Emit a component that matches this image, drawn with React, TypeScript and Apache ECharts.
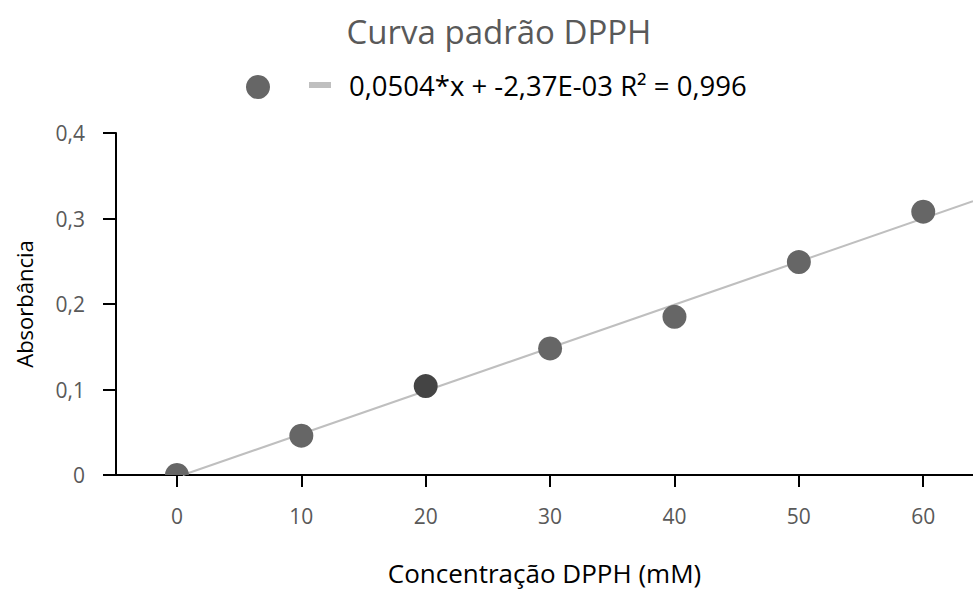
import React, { useEffect, useRef } from "react";
import * as echarts from "echarts";

const TITLE = "Curva padrão DPPH";
const X_NAME = "Concentração DPPH (mM)";
const Y_NAME = "Absorbância";
const EQUATION = "0,0504*x + -2,37E-03 R² = 0,996";
const POINTS_NAME = "Pontos";

const concentrations = [0, 10, 20, 30, 40, 50, 60];
const absorbances = [0.0, 0.046, 0.104, 0.148, 0.185, 0.249, 0.308];

// trendline fitted on x = concentration / 10
const SLOPE = 0.0504;
const INTERCEPT = -0.00237;
const X_UNIT = 10;
const X_MIN = -4.9;
const X_MAX = 64;
const xTickValues = [0, 10, 20, 30, 40, 50, 60];

const FONT = "'Open Sans', 'Noto Sans', sans-serif";
const POINT_COLOR = "#666666";
const POINT_COLOR_DARK = "#444444";

export default function App() {
  const ref = useRef<HTMLDivElement>(null);
  useEffect(() => {
    if (!ref.current) return;
    const chart = echarts.init(ref.current, undefined, { renderer: "svg" });
    const f = (c: number) => SLOPE * (c / X_UNIT) + INTERCEPT;
    const xStart = (-INTERCEPT / SLOPE) * X_UNIT;
    const trend = [
      [xStart, f(xStart)],
      [X_MAX, f(X_MAX)],
    ];
    const points = concentrations.map((x, i) => [x, absorbances[i]]);
    chart.setOption({
      animation: false,
      backgroundColor: "#ffffff",
      textStyle: { fontFamily: FONT },
      title: {
        text: TITLE,
        left: 499,
        textAlign: "center",
        top: 15,
        padding: 0,
        textStyle: { fontFamily: FONT, fontSize: 33, fontWeight: "normal", color: "#595959" },
      },
      legend: [
        {
          data: [{ name: POINTS_NAME, icon: "circle", itemStyle: { color: POINT_COLOR } }],
          left: 246,
          top: 75,
          padding: 0,
          itemWidth: 24,
          itemHeight: 24,
          formatter: () => "",
          selectedMode: false,
          textStyle: { fontSize: 1 },
        },
        {
          data: [{ name: EQUATION, icon: "rect", itemStyle: { color: "#bfbfbf" } }],
          left: 309,
          top: 71,
          padding: 0,
          itemWidth: 22,
          itemHeight: 6,
          selectedMode: false,
          textStyle: {
            fontFamily: FONT,
            fontSize: 27.5,
            color: "#000000",
            padding: [0, 0, 0, 13],
          },
        },
      ],
      grid: {
        left: 116,
        right: 0,
        top: 133,
        bottom: 115,
        containLabel: false,
        outerBoundsMode: "none",
      },
      xAxis: {
        type: "value",
        min: X_MIN,
        max: X_MAX,
        name: X_NAME,
        nameLocation: "middle",
        nameGap: 86,
        nameTextStyle: { fontFamily: FONT, fontSize: 26, lineHeight: 24, color: "#000000" },
        axisLine: { show: true, onZero: false, lineStyle: { color: "#000000", width: 2 } },
        axisTick: {
          show: true,
          length: 12,
          customValues: xTickValues,
          lineStyle: { color: "#000000", width: 2 },
        },
        axisLabel: {
          customValues: xTickValues,
          margin: 30,
          fontFamily: FONT,
          fontSize: 21,
          color: "#595959",
        },
        splitLine: { show: false },
      },
      yAxis: {
        type: "value",
        min: 0,
        max: 0.4,
        interval: 0.1,
        name: Y_NAME,
        nameLocation: "middle",
        nameGap: 81,
        nameTextStyle: { fontFamily: FONT, fontSize: 22, color: "#000000" },
        axisLine: { show: true, onZero: false, lineStyle: { color: "#000000", width: 2 } },
        axisTick: { show: true, length: 13, lineStyle: { color: "#000000", width: 2 } },
        axisLabel: {
          margin: 31,
          fontFamily: FONT,
          fontSize: 21,
          color: "#595959",
          formatter: (v: number) => (v === 0 ? "0" : v.toFixed(1).replace(".", ",")),
        },
        splitLine: { show: false },
      },
      series: [
        {
          name: EQUATION,
          type: "line",
          data: trend,
          symbol: "none",
          lineStyle: { color: "#bfbfbf", width: 2 },
          itemStyle: { color: "#bfbfbf" },
          z: 1,
          clip: true,
        },
        {
          name: POINTS_NAME,
          type: "custom",
          data: points,
          z: 2,
          itemStyle: { color: POINT_COLOR },
          renderItem: (params: any, api: any) => {
            const pt = api.coord([api.value(0), api.value(1)]);
            const cs = params.coordSys;
            return {
              type: "circle",
              shape: { cx: pt[0], cy: pt[1], r: 12 },
              style: { fill: params.dataIndex === 2 ? POINT_COLOR_DARK : POINT_COLOR },
              clipPath: {
                type: "rect",
                shape: { x: cs.x, y: cs.y, width: cs.width, height: cs.height },
              },
            };
          },
        },
      ],
    });
    return () => chart.dispose();
  }, []);
  return <div ref={ref} style={{ width: 973, height: 590, position: "absolute", left: 0, top: 0 }} />;
}
